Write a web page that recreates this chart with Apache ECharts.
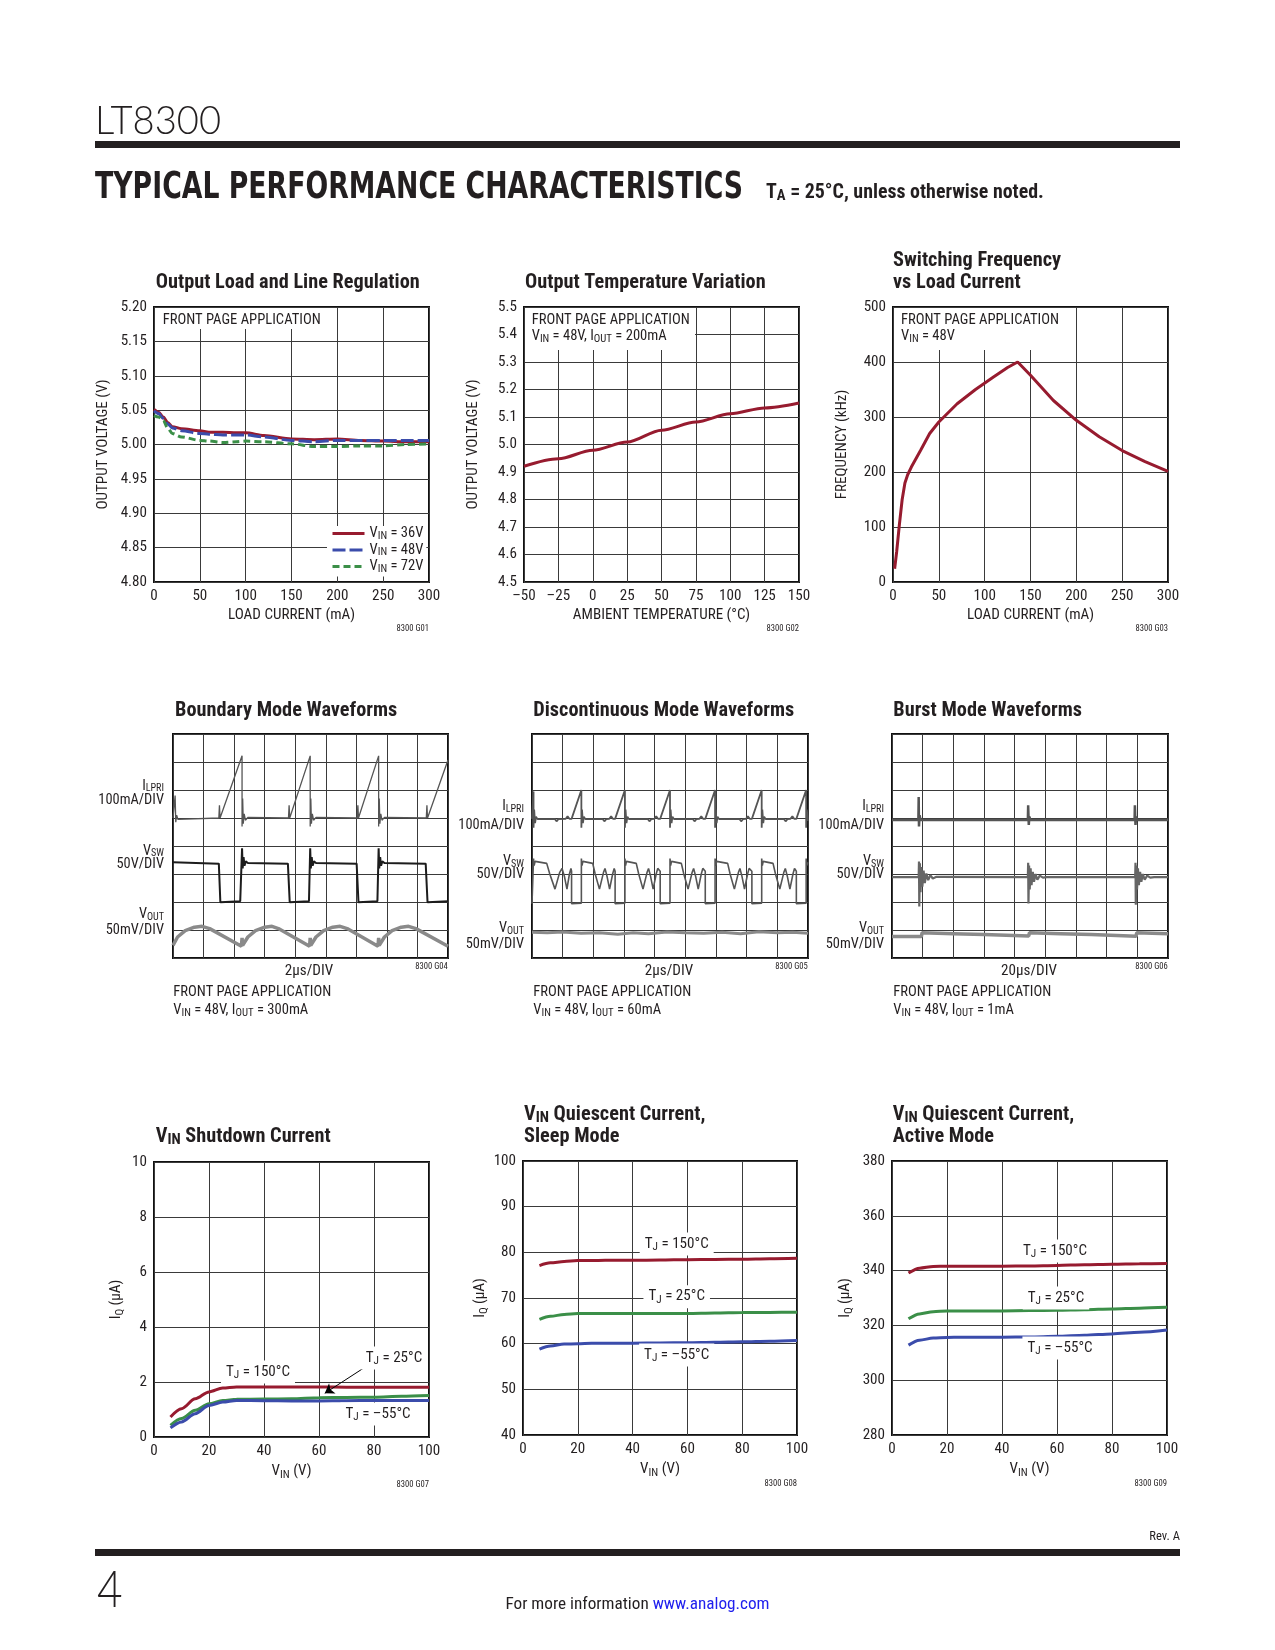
<!DOCTYPE html>
<html><head><meta charset="utf-8">
<script src="https://cdn.jsdelivr.net/npm/echarts@6/dist/echarts.min.js"></script>
<style>html,body{margin:0;padding:0;background:#fff}#c{width:1275px;height:1650px}</style>
</head><body><div id="c"></div><script>
// ---------------- DATA ----------------
// G01 Output Load and Line Regulation
const loadCurrent = [0,5,10,15,20,30,50,60,75,90,100,120,150,175,200,225,250,275,300];
const vout36V = [5.051,5.047,5.040,5.032,5.026,5.023,5.020,5.018,5.018,5.017,5.017,5.013,5.008,5.007,5.008,5.006,5.005,5.004,5.004];
const vout48V = [5.049,5.045,5.038,5.030,5.024,5.020,5.016,5.015,5.014,5.014,5.014,5.011,5.006,5.004,5.006,5.006,5.006,5.006,5.006];
const vout72V = [5.042,5.040,5.035,5.024,5.016,5.011,5.006,5.005,5.003,5.004,5.005,5.004,5.001,4.997,4.997,4.998,4.998,5.000,5.001];
const g01Names = ['VIN = 36V','VIN = 48V','VIN = 72V'];
// G02 Output Temperature Variation
const ambientTemp = [-50,-25,0,25,50,75,100,125,150];
const voutTemp = [4.921,4.948,4.979,5.009,5.052,5.082,5.112,5.133,5.151];
// G03 Switching Frequency vs Load Current
const freqLoad = [1.8,4,7,10,13,16,20,30,40,50,70,90,110,125,136,150,175,200,225,250,275,300];
const freqKHz = [24,55,105,150,180,195,209,239,270,291,324,350,373,390,400,376,330,294,264,239,219,201];
// G04 Boundary mode waveforms (x: div, y: div)
const bmIlpri = [[0,5.0],[0.05,5.0],[0.07,5.8],[0.09,4.85],[0.12,5.1],[0.16,4.95],[0.22,5.02],[1.5,5.0],[1.52,5.45],[1.54,5.0],[1.55,5.0],[2.26,7.22],[2.26,4.7],[2.28,5.7],[2.30,4.8],[2.33,5.15],[2.37,4.92],[2.45,5.02],[3.78,5.0],[3.80,5.45],[3.82,5.0],[4.49,7.22],[4.49,4.7],[4.51,5.7],[4.53,4.8],[4.56,5.15],[4.60,4.92],[4.68,5.02],[6.03,5.0],[6.05,5.45],[6.07,5.0],[6.73,7.22],[6.73,4.7],[6.75,5.7],[6.77,4.8],[6.80,5.15],[6.84,4.92],[6.92,5.02],[8.29,5.0],[8.31,5.45],[8.33,5.0],[9.0,7.07]];
const bmVsw = [[0,3.42],[0.02,3.39],[1.50,3.37],[1.53,3.30],[1.55,1.99],[2.2,2.03],[2.26,2.05],[2.26,3.92],[2.28,3.2],[2.31,3.6],[2.34,3.3],[2.38,3.45],[2.45,3.39],[3.76,3.37],[3.80,3.30],[3.82,1.99],[4.45,2.03],[4.49,2.05],[4.49,3.92],[4.51,3.2],[4.54,3.6],[4.57,3.3],[4.61,3.45],[4.68,3.39],[6.01,3.37],[6.05,3.30],[6.07,1.99],[6.69,2.03],[6.73,2.05],[6.73,3.92],[6.75,3.2],[6.78,3.6],[6.81,3.3],[6.85,3.45],[6.92,3.39],[8.27,3.37],[8.31,3.30],[8.33,1.99],[9.0,2.03]];
const bmVout = [[0,0.45],[0.15,0.75],[0.4,0.98],[0.7,1.1],[0.95,1.13],[1.2,1.05],[2.24,0.42],[2.26,0.72],[2.28,0.45],[2.45,0.75],[2.7,0.98],[3.0,1.1],[3.24,1.13],[3.45,1.05],[4.47,0.42],[4.49,0.72],[4.51,0.45],[4.68,0.75],[4.93,0.98],[5.23,1.1],[5.47,1.13],[5.7,1.05],[6.71,0.42],[6.73,0.72],[6.75,0.45],[6.92,0.75],[7.17,0.98],[7.47,1.1],[7.71,1.13],[7.95,1.05],[9.0,0.42]];
// G05 Discontinuous mode waveforms
const dcmIlpri = [[0,4.97],[0.04,4.97],[0.05,5.95],[0.05,4.65],[0.07,5.3],[0.1,4.82],[0.13,5.05],[0.18,4.96],[0.75,4.96],[0.8,4.88],[0.86,4.96],[1.1,4.97],[1.16,5.06],[1.22,4.97],[1.29,4.97],
 [1.61,6.0],[1.61,4.65],[1.63,5.3],[1.66,4.82],[1.69,5.05],[1.74,4.96],[2.31,4.96],[2.36,4.88],[2.42,4.96],[2.52,4.97],[2.58,5.06],[2.64,4.97],[2.71,4.97],
 [3.03,6.0],[3.03,4.65],[3.05,5.3],[3.08,4.82],[3.11,5.05],[3.16,4.96],[3.78,4.96],[3.83,4.88],[3.89,4.96],[3.99,4.97],[4.05,5.06],[4.11,4.97],[4.18,4.97],
 [4.50,6.0],[4.50,4.65],[4.52,5.3],[4.55,4.82],[4.58,5.05],[4.63,4.96],[5.25,4.96],[5.30,4.88],[5.36,4.96],[5.46,4.97],[5.52,5.06],[5.58,4.97],[5.65,4.97],
 [5.97,6.0],[5.97,4.65],[5.99,5.3],[6.02,4.82],[6.05,5.05],[6.10,4.96],[6.77,4.96],[6.82,4.88],[6.88,4.96],[6.98,4.97],[7.04,5.06],[7.10,4.97],[7.17,4.97],
 [7.49,6.0],[7.49,4.65],[7.51,5.3],[7.54,4.82],[7.57,5.05],[7.62,4.96],[8.22,4.96],[8.27,4.88],[8.33,4.96],[8.43,4.97],[8.49,5.06],[8.55,4.97],[8.62,4.97],
 [8.94,6.0],[8.94,4.65],[8.96,5.3],[9.0,4.9]];
const dcmVsw = [[0,1.94],[0.05,1.94],[0.05,3.55],[0.07,3.3],[0.1,3.45],[0.14,3.41],[0.48,3.38],[0.58,3.0],[0.75,2.46],[0.9,3.05],[0.98,3.2],[1.06,2.9],[1.14,2.46],[1.22,3.0],[1.27,3.2],[1.29,3.1],[1.29,1.94],[1.61,1.96],
 [1.61,3.55],[1.63,3.3],[1.66,3.45],[1.70,3.41],[1.98,3.38],[2.06,3.0],[2.20,2.46],[2.33,3.05],[2.38,3.2],[2.45,2.9],[2.53,2.46],[2.63,3.0],[2.68,3.2],[2.71,3.1],[2.71,1.94],[3.03,1.96],
 [3.03,3.55],[3.05,3.3],[3.08,3.45],[3.12,3.41],[3.40,3.38],[3.48,3.0],[3.62,2.46],[3.75,3.05],[3.80,3.2],[3.87,2.9],[3.95,2.46],[4.05,3.0],[4.10,3.2],[4.18,3.1],[4.18,1.94],[4.50,1.96],
 [4.50,3.55],[4.52,3.3],[4.55,3.45],[4.59,3.41],[4.87,3.38],[4.95,3.0],[5.09,2.46],[5.22,3.05],[5.27,3.2],[5.34,2.9],[5.42,2.46],[5.52,3.0],[5.57,3.2],[5.65,3.1],[5.65,1.94],[5.97,1.96],
 [5.97,3.55],[5.99,3.3],[6.02,3.45],[6.06,3.41],[6.38,3.38],[6.46,3.0],[6.60,2.46],[6.73,3.05],[6.78,3.2],[6.85,2.9],[6.93,2.46],[7.03,3.0],[7.08,3.2],[7.17,3.1],[7.17,1.94],[7.49,1.96],
 [7.49,3.55],[7.51,3.3],[7.54,3.45],[7.58,3.41],[7.86,3.38],[7.94,3.0],[8.08,2.46],[8.21,3.05],[8.26,3.2],[8.33,2.9],[8.41,2.46],[8.51,3.0],[8.56,3.2],[8.62,3.1],[8.62,1.94],[8.94,1.96],
 [8.94,3.55],[8.96,3.3],[9.0,3.42]];
const dcmVout = [[0,0.92],[0.5,0.9],[1.0,0.93],[1.6,0.88],[2.2,0.9],[2.8,0.85],[3.3,0.9],[3.8,0.87],[4.4,0.93],[5.0,0.9],[5.6,0.88],[6.2,0.92],[6.8,0.87],[7.4,0.94],[8.0,0.9],[8.5,0.92],[9.0,0.88]];
// G06 Burst mode waveforms
const burstIlpri = [[0,4.93],[0.86,4.93],[0.87,5.75],[0.88,4.7],[0.9,5.1],[0.93,4.93],[4.43,4.93],[4.44,5.45],[4.46,4.75],[4.48,5.05],[4.51,4.93],[7.91,4.93],[7.92,5.45],[7.94,4.75],[7.96,5.05],[7.99,4.93],[9.0,4.93]];
const burstVsw = [[0,2.89],[0.87,2.89],[0.88,3.45],[0.89,1.84],[0.91,3.38],[0.93,2.35],[0.96,3.25],[0.99,2.55],[1.03,3.12],[1.07,2.68],[1.12,3.02],[1.18,2.78],[1.25,2.96],[1.33,2.84],[1.45,2.9],
 [4.43,2.89],[4.44,3.4],[4.45,1.95],[4.47,3.3],[4.49,2.45],[4.52,3.2],[4.55,2.6],[4.59,3.08],[4.63,2.72],[4.68,3.0],[4.74,2.8],[4.82,2.94],[4.92,2.87],[5.05,2.89],
 [7.93,2.89],[7.94,3.4],[7.95,1.9],[7.97,3.3],[7.99,2.45],[8.02,3.2],[8.05,2.6],[8.09,3.08],[8.13,2.72],[8.18,3.0],[8.24,2.8],[8.32,2.94],[8.42,2.87],[8.55,2.89],[9,2.89]];
const burstVout = [[0,0.77],[0.96,0.77],[0.98,0.9],[2.0,0.87],[3.0,0.84],[4.46,0.79],[4.48,0.9],[5.5,0.87],[6.5,0.84],[7.96,0.78],[7.98,0.9],[9.0,0.87]];
// G07 VIN shutdown current
const vin = [6,10,15,20,25,30,40,50,60,70,80,90,100];
const sd150 = [0.73,1.03,1.39,1.64,1.78,1.82,1.82,1.82,1.82,1.81,1.81,1.81,1.81];
const sd25 = [0.42,0.67,0.97,1.21,1.33,1.37,1.38,1.39,1.43,1.44,1.45,1.48,1.51];
const sdM55 = [0.33,0.55,0.85,1.15,1.27,1.33,1.32,1.31,1.31,1.32,1.33,1.33,1.33];
const sdArrow = [[76.6,2.53],[62.1,1.59]];
// G08 Quiescent current sleep
const sl150 = [77.1,77.7,78.0,78.2,78.2,78.25,78.25,78.3,78.4,78.45,78.5,78.6,78.7];
const sl25 = [65.3,66.0,66.4,66.6,66.6,66.6,66.6,66.6,66.6,66.7,66.8,66.85,66.9];
const slM55 = [58.8,59.5,59.9,60.0,60.1,60.1,60.1,60.15,60.2,60.3,60.4,60.55,60.7];
// G09 Quiescent current active
const ac150 = [339.1,340.9,341.5,341.6,341.6,341.6,341.6,341.7,341.9,342.1,342.3,342.5,342.6];
const ac25 = [322.4,324.2,325.0,325.3,325.3,325.3,325.3,325.4,325.5,325.7,326.0,326.3,326.6];
const acM55 = [312.8,314.6,315.4,315.6,315.7,315.7,315.7,315.8,316.0,316.4,316.9,317.5,318.3];
// axis ranges [min,max,interval]
const g01X=[0,300,50], g01Y=[4.8,5.2,0.05];
const g02X=[-50,150,25], g02Y=[4.5,5.5,0.1];
const g03X=[0,300,50], g03Y=[0,500,100];
const scopeX=[0,9,1], scopeY=[0,8,1];
const vinX=[0,100,20], g07Y=[0,10,2], g08Y=[40,100,10], g09Y=[280,380,20];

// ---------------- FONT SELECTION (layout only) ----------------
const mctx = document.createElement('canvas').getContext('2d');
function hasFont(fam) {
  const s = 'abcdefghijklmnopqrstuvwxyzABCDEFGHIJKLM0123456789';
  let diff = false;
  ['monospace', 'serif'].forEach(fb => {
    mctx.font = '40px ' + fb; const a = mctx.measureText(s).width;
    mctx.font = "40px '" + fam + "', " + fb; const b = mctx.measureText(s).width;
    if (Math.abs(a - b) > 0.5) diff = true;
  });
  return diff;
}
const fontCandidates = ['Liberation Sans Narrow', 'Arial Narrow', 'Nimbus Sans Narrow', 'Roboto Condensed', 'Noto Sans Condensed', 'Liberation Sans'];
const FAM = fontCandidates.find(hasFont) || 'Arial';
const F = "'" + FAM + "', 'Liberation Sans', Arial, sans-serif";
function widthAt1(text, weight) { mctx.font = (weight || 'normal') + ' 100px ' + F; return mctx.measureText(text).width / 100; }
// size multipliers so that text widths match the reference
const KR = (158.5 / 14.5) / widthAt1('FRONT PAGE APPLICATION');
const KB = (264 / 20) / widthAt1('Output Load and Line Regulation', 'bold');
const S = n => Math.round(n * KR * 10) / 10;
const SB = n => Math.round(n * KB * 10) / 10;

// ---------------- STYLE / LAYOUT ----------------
const INK = '#231f20', GRIDC = '#3a3a3a';
const RED = '#971b2f', BLUE = '#3b4cab', GREEN = '#3b8f48';
const pts = (xs, ys) => xs.map((x, i) => [x, ys[i]]);

function R(fs, lh, bold, color, subK) {
  color = color || INK; lh = lh || Math.round(fs + 4);
  const fw = bold ? 'bold' : 'normal';
  const sfs = Math.round(fs * (subK || 0.74) * 10) / 10;
  return {
    n: {fontFamily:F, fontSize:fs, fontWeight:fw, color:color, fill:color, lineHeight:lh, verticalAlign:'middle'},
    s: {fontFamily:F, fontSize:sfs, fontWeight:fw, color:color, fill:color, lineHeight:sfs, verticalAlign:'bottom'},
    b: {fontFamily:F, fontSize:fs, fontWeight:fw, color:'#2020ee', fill:'#2020ee', lineHeight:lh, verticalAlign:'middle'}
  };
}

const gridBoxes = [
  [154,307,275,275],[524,307,275,275],[893,307,275,275],
  [173,734,275,224],[532,734,276,224],[892,734,276,224],
  [154,1162,275,275],[523,1161,274,274],[892,1161,275,274]
];
const grid = gridBoxes.map(([l,t,w,h]) => ({left:l, top:t, width:w, height:h, show:true, borderColor:'#111', borderWidth:2, backgroundColor:'rgba(0,0,0,0)', containLabel:false, outerBoundsMode:'none'}));

const AX_FS = S(15);
function ax(gi, range, o) {
  o = o || {};
  const a = {
    gridIndex: gi, type:'value', min: range[0], max: range[1], interval: range[2],
    axisLine:{show:false}, axisTick:{show:false},
    splitLine:{show:true, lineStyle:{color:GRIDC, width:1}},
    axisLabel:{show: o.noLabel ? false : true, color:INK, fontFamily:F, fontSize:AX_FS, margin:7},
    name: o.name || '', nameLocation:'middle', nameGap: o.gap || 25,
    nameTextStyle:{color:INK, fontFamily:F, fontSize:AX_FS, rich: R(AX_FS)}
  };
  if (o.fmt) a.axisLabel.formatter = o.fmt;
  return a;
}
const tempFmt = v => v < 0 ? '\u2013' + (-v) : String(v);
const vinName = '{n|V}{s|IN}{n| (V)}';
const iqName = '{n|I}{s|Q}{n| (\u00b5A)}';

const xAxis = [
  ax(0, g01X, {name:'LOAD CURRENT (mA)', gap:26}),
  ax(1, g02X, {name:'AMBIENT TEMPERATURE (\u00b0C)', gap:26, fmt: tempFmt}),
  ax(2, g03X, {name:'LOAD CURRENT (mA)', gap:26}),
  ax(3, scopeX, {noLabel:true}), ax(4, scopeX, {noLabel:true}), ax(5, scopeX, {noLabel:true}),
  ax(6, vinX, {name:vinName, gap:25}), ax(7, vinX, {name:vinName, gap:25}), ax(8, vinX, {name:vinName, gap:25})
];
const yAxis = [
  ax(0, g01Y, {name:'OUTPUT VOLTAGE (V)', gap:43, fmt: v => v.toFixed(2)}),
  ax(1, g02Y, {name:'OUTPUT VOLTAGE (V)', gap:43, fmt: v => v.toFixed(1)}),
  ax(2, g03Y, {name:'FREQUENCY (kHz)', gap:43}),
  ax(3, scopeY, {noLabel:true}), ax(4, scopeY, {noLabel:true}), ax(5, scopeY, {noLabel:true}),
  ax(6, g07Y, {name:iqName, gap:28}), ax(7, g08Y, {name:iqName, gap:32}), ax(8, g09Y, {name:iqName, gap:37})
];

function line(name, i, data, color, width, extra) {
  return Object.assign({type:'line', name, xAxisIndex:i, yAxisIndex:i, data, symbol:'none', showSymbol:false,
    lineStyle:{color, width}, itemStyle:{color}, emphasis:{disabled:true}, silent:true}, extra || {});
}
const sm = {smooth:0.3, smoothMonotone:'x'};
const series = [
  line(g01Names[0], 0, pts(loadCurrent, vout36V), RED, 3, sm),
  line(g01Names[1], 0, pts(loadCurrent, vout48V), BLUE, 3, Object.assign({lineStyle:{color:BLUE, width:3, type:[13,4]}}, sm)),
  line(g01Names[2], 0, pts(loadCurrent, vout72V), GREEN, 3, Object.assign({lineStyle:{color:GREEN, width:3, type:[7,4]}}, sm)),
  line('Output voltage vs temperature', 1, pts(ambientTemp, voutTemp), RED, 3, sm),
  line('Switching frequency', 2, pts(freqLoad, freqKHz), RED, 3),
  line('BM ILPRI', 3, bmIlpri, '#555', 1.3),
  line('BM VSW', 3, bmVsw, '#1c1c1c', 2),
  line('BM VOUT', 3, bmVout, '#8a8a8a', 3.5),
  line('DCM ILPRI', 4, dcmIlpri, '#555', 1.8),
  line('DCM VSW', 4, dcmVsw, '#555', 1.6),
  line('DCM VOUT', 4, dcmVout, '#8a8a8a', 3),
  line('BURST ILPRI', 5, burstIlpri, '#555', 2.5),
  line('BURST VSW', 5, burstVsw, '#666', 2.2),
  line('BURST VOUT', 5, burstVout, '#8a8a8a', 3.5),
  line('SD 150', 6, pts(vin, sd150), RED, 3, sm),
  line('SD 25', 6, pts(vin, sd25), GREEN, 3, Object.assign({markLine:{silent:true, symbol:['none','arrow'], symbolSize:9, label:{show:false},
      lineStyle:{color:'#000', width:1, type:'solid'}, emphasis:{disabled:true},
      data:[[{coord:sdArrow[0]},{coord:sdArrow[1]}]]}}, sm)),
  line('SD -55', 6, pts(vin, sdM55), BLUE, 3, sm),
  line('SL 150', 7, pts(vin, sl150), RED, 3, sm),
  line('SL 25', 7, pts(vin, sl25), GREEN, 3, sm),
  line('SL -55', 7, pts(vin, slM55), BLUE, 3, sm),
  line('AC 150', 8, pts(vin, ac150), RED, 3, sm),
  line('AC 25', 8, pts(vin, ac25), GREEN, 3, sm),
  line('AC -55', 8, pts(vin, acM55), BLUE, 3, sm)
];

const TR = R(SB(20), 22, true);
const titles = [
  ['{n|Output Load and Line Regulation}', 155.7, 272],
  ['{n|Output Temperature Variation}', 525, 272],
  ['{n|Switching Frequency}\n{n|vs Load Current}', 893, 250],
  ['{n|Boundary Mode Waveforms}', 175, 699.7],
  ['{n|Discontinuous Mode Waveforms}', 533.3, 699.7],
  ['{n|Burst Mode Waveforms}', 893.3, 699.7],
  ['{n|V}{s|IN}{n| Shutdown Current}', 155.7, 1125.7],
  ['{n|V}{s|IN}{n| Quiescent Current,}\n{n|Sleep Mode}', 524, 1104],
  ['{n|V}{s|IN}{n| Quiescent Current,}\n{n|Active Mode}', 892.7, 1104]
].map(([text, left, top]) => ({text, left, top, padding:0, textStyle:{rich: TR, color:INK}}));

// ---------------- GRAPHIC TEXTS ----------------
function fitScale(text, font, target) { mctx.font = font; return target / mctx.measureText(text).width; }
function gt(x, y, text, o) {
  o = o || {};
  const al = o.align || 'left';
  const st = {text, fill: o.color || INK, fontFamily: o.family || F, fontSize: o.fs || S(15), fontWeight: o.weight || 'normal',
    align: al, verticalAlign:'middle', textAlign: al, textVerticalAlign:'middle'};
  if (o.rich) st.rich = o.rich;
  if (o.bg) { st.backgroundColor = '#fff'; st.padding = o.pad || [3,5,3,5]; }
  const el = {type:'text', x, y, z:100, silent:true, style: st};
  if (o.sx) el.scaleX = o.sx;
  return el;
}
function box(x, y, w, h, fill) { return {type:'rect', z:99, silent:true, shape:{x, y, width:w, height:h}, style:{fill: fill || '#fff'}}; }

const BOX_FS = S(14.5);
const CH_FS = S(14.3);
const RCH = R(CH_FS, 15, false, INK, 0.7), R145 = R(BOX_FS, 17), RB18 = R(SB(19.6), 22, true);
const tj = t => '{n|T}{s|J}{n| = ' + t + '}';
const G = [];
// header
G.push(gt(95, 121, 'LT8300', {family:'Lato', weight:300, fs:40, sx: fitScale('LT8300', "300 40px Lato", 126)}));
G.push(box(95, 141, 1085, 7, INK));
G.push(gt(95, 188, 'TYPICAL PERFORMANCE CHARACTERISTICS', {family:"'DejaVu Sans'", weight:'bold', fs:37,
  sx: fitScale('TYPICAL PERFORMANCE CHARACTERISTICS', "bold 37px 'DejaVu Sans'", 648)}));
G.push(gt(766, 193, '{n|T}{s|A}{n| = 25\u00b0C, unless otherwise noted.}', {rich: RB18}));
// row 1 boxes
G.push(box(155, 308, 168, 21));
G.push(gt(162.7, 320, 'FRONT PAGE APPLICATION', {fs:BOX_FS}));
G.push(box(525, 308, 170, 42));
G.push(gt(531.7, 320, 'FRONT PAGE APPLICATION', {fs:BOX_FS}));
G.push(gt(531.7, 336.7, '{n|V}{s|IN}{n| = 48V, I}{s|OUT}{n| = 200mA}', {rich:R145}));
G.push(box(894, 308, 168, 42));
G.push(gt(901, 320, 'FRONT PAGE APPLICATION', {fs:BOX_FS}));
G.push(gt(901, 336.7, '{n|V}{s|IN}{n| = 48V}', {rich:R145}));
// figure codes
[['8300 G01',429,629],['8300 G02',799,629],['8300 G03',1168,629],['8300 G04',447.7,967.3],['8300 G05',807.7,967.3],['8300 G06',1167.7,967.3],['8300 G07',429,1485],['8300 G08',797,1484],['8300 G09',1167,1484]]
  .forEach(([t,x,y]) => G.push(gt(x, y, t, {fs:S(8.5), align:'right'})));
// row 2 channel labels
function chLabels(xr, yI, yIs, yV, yVs, yO, yOs) {
  G.push(gt(xr, yI, '{n|I}{s|LPRI}', {rich:RCH, align:'right'}));
  G.push(gt(xr, yIs, '100mA/DIV', {fs:CH_FS, align:'right'}));
  G.push(gt(xr, yV, '{n|V}{s|SW}', {rich:RCH, align:'right'}));
  G.push(gt(xr, yVs, '50V/DIV', {fs:CH_FS, align:'right'}));
  G.push(gt(xr, yO, '{n|V}{s|OUT}', {rich:RCH, align:'right'}));
  G.push(gt(xr, yOs, '50mV/DIV', {fs:CH_FS, align:'right'}));
}
chLabels(164, 786.3, 800, 851.3, 864.5, 914.7, 930);
chLabels(524, 806.8, 825.7, 861.8, 874, 928.5, 944);
chLabels(884, 806.8, 825.7, 861.8, 874, 928.5, 944);
[[309,'2\u00b5s/DIV',173.3,'300mA'],[669,'2\u00b5s/DIV',533.3,'60mA'],[1029,'20\u00b5s/DIV',893.3,'1mA']].forEach(([cx, tb, lx, io]) => {
  G.push(gt(cx, 971.7, tb, {fs:S(15), align:'center'}));
  G.push(gt(lx, 992.3, 'FRONT PAGE APPLICATION', {fs:BOX_FS}));
  G.push(gt(lx, 1010, '{n|V}{s|IN}{n| = 48V, I}{s|OUT}{n| = ' + io + '}', {rich:R145}));
});
// row 3 labels
const RTJ = R(S(15), 17);
[[258,1372,'150\u00b0C'],[394,1358,'25\u00b0C'],[378,1414,'\u201355\u00b0C'],
 [676.7,1244,'150\u00b0C'],[676.7,1296.7,'25\u00b0C'],[676.7,1355,'\u201355\u00b0C'],
 [1055,1251,'150\u00b0C'],[1056,1298,'25\u00b0C'],[1060,1348,'\u201355\u00b0C']]
 .forEach(([x,y,t]) => G.push(gt(x, y, tj(t), {rich:RTJ, align:'center', bg:true, pad:[3,5,3,5]})));
// footer
G.push(gt(1180, 1537, 'Rev. A', {fs:S(12.5), align:'right'}));
G.push(box(95, 1549, 1085, 7, INK));
G.push(gt(97, 1590, '4', {family:'Lato', weight:300, fs:52, sx:0.85}));
G.push(gt(637.5, 1605, '{n|For more information }{b|www.analog.com}', {rich:R(S(17), 20), align:'center'}));

const option = {
  animation:false,
  backgroundColor:'#fff',
  textStyle:{fontFamily:F, color:INK},
  title: titles,
  legend: {
    data: g01Names, orient:'vertical', left:327, top:526, padding:[0,3,2,4], itemGap:1,
    itemWidth:32, itemHeight:10, backgroundColor:'#fff', selectedMode:false, z:50,
    itemStyle:{opacity:0}, lineStyle:{width:3},
    formatter: n => '{n|V}{s|IN}{n|' + n.slice(3) + '}',
    textStyle: {rich: R(BOX_FS, 16), color:INK}
  },
  grid, xAxis, yAxis, series,
  graphic: {elements: G}
};
const chart = echarts.init(document.getElementById('c'), null, {renderer:'canvas', width:1275, height:1650});
chart.setOption(option);
</script></body></html>
